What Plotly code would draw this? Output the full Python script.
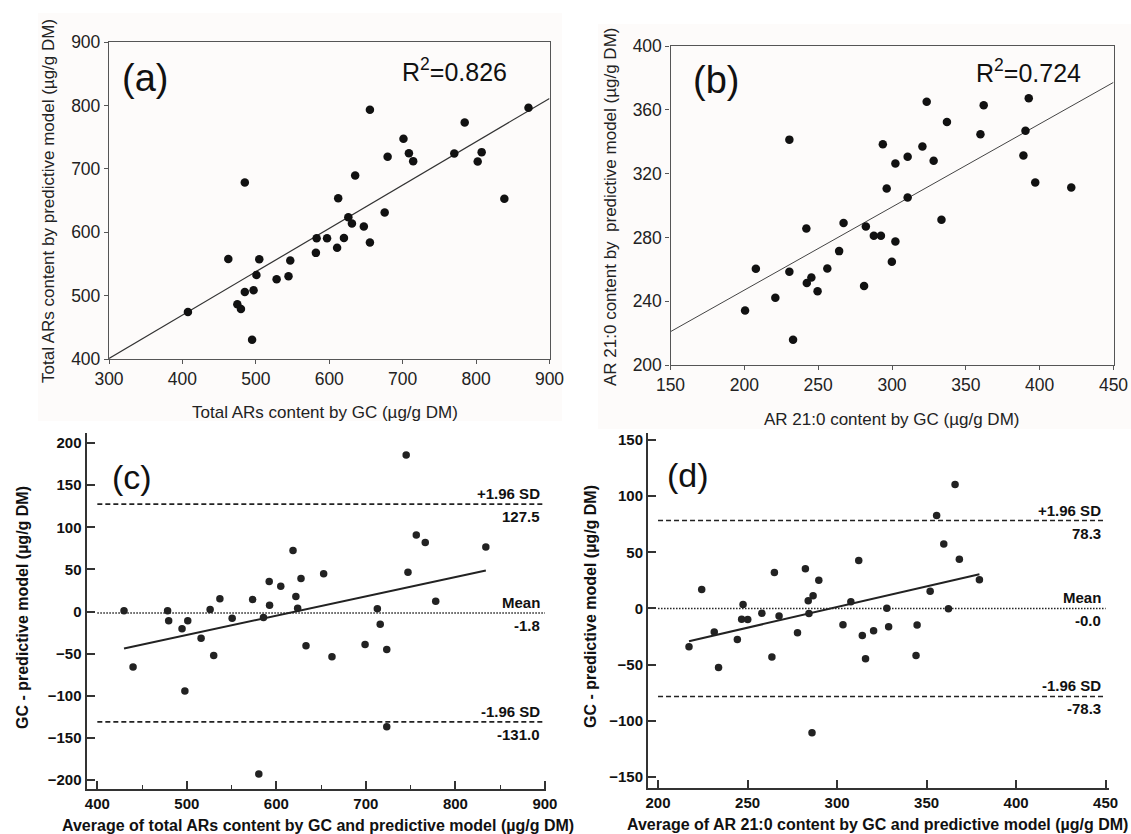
import plotly.graph_objects as go

# ---------------- data ----------------
# (a) Total ARs: GC vs predictive model
a_gc = [407.5, 462.5, 485, 474.8, 479.7, 485, 496.9, 494.9, 500.8, 504.7, 528.3, 544.5,
        546.9, 581.8, 582.8, 597, 610.7, 612.2, 620, 626, 630.9, 635.3, 647.1, 655.4,
        655.4, 675.5, 679.5, 701.1, 708.5, 714.3, 770.3, 784.5, 802.2, 807.6, 838.5, 871.4]
a_pred = [474.2, 557.9, 678.4, 486.3, 478.9, 505.8, 508.4, 430.5, 532.6, 557.4, 525.8, 530.5,
          555.3, 567.4, 590.5, 590.5, 575.3, 653.7, 591, 623.7, 613.7, 689.5, 608.9, 583.7,
          793.2, 631.1, 718.9, 747.4, 724.7, 712.1, 724.2, 773.2, 711.6, 726.3, 652.6, 796.3]
a_fit_x = [300, 900]
a_fit_y = [401, 811]
a_r2 = "0.826"

# (b) AR 21:0: GC vs predictive model
b_gc = [200.5, 207.8, 221, 230.5, 230.5, 233, 242, 242.3, 245.4, 249.6, 256.2, 264.2,
        267.2, 281.1, 282.3, 287.7, 292.5, 293.8, 296.4, 299.9, 302.3, 302.3, 310.6, 310.6,
        320.6, 323.5, 328.2, 333.5, 337.2, 359.9, 362.1, 389, 390.4, 392.6, 397, 421.4]
b_pred = [234.2, 260.3, 242.2, 341.3, 258.5, 215.9, 285.6, 251.4, 254.9, 246.3, 260.5, 271.4,
          289.1, 249.5, 286.8, 281, 281, 338.4, 310.6, 264.7, 326.3, 277.5, 330.5, 305,
          337, 365.1, 328, 291, 352.4, 344.7, 362.8, 331.3, 346.8, 367.2, 314.4, 311.3]
b_fit_x = [150, 450]
b_fit_y = [220.9, 377.2]
b_r2 = "0.724"

# (c) Bland-Altman, total ARs
c_avg = [429.8, 439.9, 478.5, 479.7, 494.6, 501, 497.8, 515.9, 526, 530, 536.9, 550.6,
         573.5, 580.4, 585.6, 592, 592.4, 604.9, 618.6, 621.8, 623.8, 627.5, 633.1, 652.8,
         662.1, 699.1, 712.8, 716, 723.3, 723.3, 745, 747, 756.3, 766.3, 778, 834]
c_diff = [0.8, -66, 0.8, -11.1, -20.6, -11.1, -94.5, -31.6, 2.4, -52.2, 15, -7.9,
          14.2, -192.9, -7.1, 35.6, 7.5, 30, 72.3, 17.8, 4, 39.1, -40.7, 44.7,
          -53.8, -39.1, 3.2, -15, -45.1, -136.8, 185.8, 46.6, 90.9, 81.8, 12.3, 76.7]
c_fit_x = [429.8, 834]
c_fit_y = [-43.9, 48.6]
c_mean, c_upper, c_lower = -1.8, 127.5, -131.0
c_mean_lbl, c_upper_lbl, c_lower_lbl = "-1.8", "127.5", "-131.0"

# (d) Bland-Altman, AR 21:0
d_avg = [217.3, 224.4, 231.4, 233.8, 244.3, 247.5, 246.7, 250.1, 258, 263.6, 265, 267.6,
         277.9, 282.3, 283.9, 284.3, 286.6, 286, 289.8, 303.3, 307.7, 312.1, 314.1, 315.9,
         320.4, 327.8, 328.8, 344.1, 344.7, 352, 355.6, 359.6, 362.2, 365.9, 368.3, 379.5]
d_diff = [-34.1, 16.9, -21, -52.5, -27.6, 3.6, -9.5, -9.8, -4.2, -43.3, 32, -6.8,
          -21.6, 35.3, 6.8, -4.4, 11.3, -110.6, 25.2, -14.5, 5.9, 42.7, -24, -44.8,
          -19.9, 0.3, -16.3, -41.8, -14.8, 15.4, 82.7, 57.5, -0.3, 110.3, 43.9, 25.5]
d_fit_x = [217.3, 379.5]
d_fit_y = [-29.1, 30.5]
d_mean, d_upper, d_lower = 0.0, 78.3, -78.3
d_mean_lbl, d_upper_lbl, d_lower_lbl = "-0.0", "78.3", "-78.3"

# ---------------- figure ----------------
W, H = 1131, 834
FONT = "Liberation Sans, Arial, sans-serif"


def px(x):
    return x / W


def py(y):
    return 1 - y / H


fig = go.Figure()

# scatter + fit lines (a), (b)
fig.add_trace(go.Scatter(x=a_fit_x, y=a_fit_y, mode="lines", xaxis="x", yaxis="y",
                         line=dict(color="#333333", width=1.2), showlegend=False))
fig.add_trace(go.Scatter(x=a_gc, y=a_pred, mode="markers", xaxis="x", yaxis="y",
                         marker=dict(size=8.5, color="#111111"), showlegend=False))
fig.add_trace(go.Scatter(x=b_fit_x, y=b_fit_y, mode="lines", xaxis="x2", yaxis="y2",
                         line=dict(color="#444444", width=1), showlegend=False))
fig.add_trace(go.Scatter(x=b_gc, y=b_pred, mode="markers", xaxis="x2", yaxis="y2",
                         marker=dict(size=8.5, color="#111111"), showlegend=False))


def ba_panel(avg, diff, fx, fy, mean, up, lo, xr, xa, ya):
    fig.add_trace(go.Scatter(x=[xr[0], xr[1]], y=[up, up], mode="lines", xaxis=xa, yaxis=ya,
                             line=dict(color="#222222", width=1.6, dash="5px,3px"), showlegend=False))
    fig.add_trace(go.Scatter(x=[xr[0], xr[1]], y=[lo, lo], mode="lines", xaxis=xa, yaxis=ya,
                             line=dict(color="#222222", width=1.6, dash="5px,3px"), showlegend=False))
    fig.add_trace(go.Scatter(x=[xr[0], xr[1]], y=[mean, mean], mode="lines", xaxis=xa, yaxis=ya,
                             line=dict(color="#222222", width=1.6, dash="1.5px,1.5px"), showlegend=False))
    fig.add_trace(go.Scatter(x=fx, y=fy, mode="lines", xaxis=xa, yaxis=ya,
                             line=dict(color="#222222", width=2), showlegend=False))
    fig.add_trace(go.Scatter(x=avg, y=diff, mode="markers", xaxis=xa, yaxis=ya,
                             marker=dict(size=7.5, color="#222222"), showlegend=False))


ba_panel(c_avg, c_diff, c_fit_x, c_fit_y, c_mean, c_upper, c_lower, [400, 900], "x3", "y3")
ba_panel(d_avg, d_diff, d_fit_x, d_fit_y, d_mean, d_upper, d_lower, [200, 450], "x4", "y4")

top_axis = dict(showgrid=False, zeroline=False, showline=True, linecolor="#555555", linewidth=1.3,
                mirror=True, ticks="outside", ticklen=4, tickcolor="#555555", tickwidth=1.2,
                automargin=False,
                tickfont=dict(family=FONT, size=17.5, color="#222222"))
bot_axis = dict(showgrid=False, zeroline=False, showline=True, linecolor="#333333", linewidth=2,
                mirror=False, ticks="inside", ticklen=8, tickcolor="#333333", tickwidth=1.5,
                automargin=False,
                tickfont=dict(family=FONT, size=15, color="#111111", weight="bold"))

fig.update_layout(
    template="none",
    width=W, height=H, margin=dict(l=0, r=0, t=0, b=0, pad=0, autoexpand=False),
    paper_bgcolor="white", plot_bgcolor="rgba(0,0,0,0)", showlegend=False,
    xaxis=dict(top_axis, domain=[px(109), px(549.5)], range=[300, 900], dtick=100, anchor="y"),
    yaxis=dict(top_axis, domain=[py(359), py(42)], range=[400, 900], dtick=100, anchor="x"),
    xaxis2=dict(top_axis, domain=[px(670.5), px(1113.5)], range=[150, 450], dtick=50, anchor="y2"),
    yaxis2=dict(top_axis, domain=[py(365), py(46)], range=[200, 400], dtick=40, anchor="x2"),
    xaxis3=dict(bot_axis, domain=[px(86.5), px(546)], range=[387.9, 901.2], tickvals=[400, 500, 600, 700, 800, 900],
                minor=dict(ticks="inside", ticklen=4, tickcolor="#333333", tickwidth=1.2,
                           tickvals=[450, 550, 650, 750, 850]), anchor="y3"),
    yaxis3=dict(bot_axis, domain=[py(789), py(433)], range=[-210.7, 211.9],
                tickvals=[-200, -150, -100, -50, 0, 50, 100, 150, 200], anchor="x3"),
    xaxis4=dict(bot_axis, domain=[px(648), px(1108.5)], range=[194.4, 451.6],
                tickvals=[200, 250, 300, 350, 400, 450], anchor="y4"),
    yaxis4=dict(bot_axis, domain=[py(788), py(433)], range=[-159.8, 156.2],
                tickvals=[-150, -100, -50, 0, 50, 100, 150], anchor="x4"),
)

# light backgrounds behind the top panels
fig.add_shape(type="rect", xref="paper", yref="paper", x0=px(38), x1=px(562), y0=py(421), y1=py(13),
              fillcolor="#fdfbfa", line=dict(width=0), layer="below")
fig.add_shape(type="rect", xref="paper", yref="paper", x0=px(598), x1=1, y0=py(429), y1=py(24),
              fillcolor="#fdfbfa", line=dict(width=0), layer="below")

anns = []


def ann(text, x, y, size, bold=False, xanchor="center", yanchor="middle", angle=0, xref="paper",
        yref="paper", xshift=0, yshift=0, color="#111111"):
    anns.append(dict(text=text, x=x, y=y, xref=xref, yref=yref, showarrow=False,
                     xanchor=xanchor, yanchor=yanchor, textangle=angle, xshift=xshift, yshift=yshift,
                     font=dict(family=FONT, size=size, color=color, weight="bold" if bold else "normal")))


# axis titles
ann("Total ARs content by GC (µg/g DM)", px(325), py(412), 17, color="#222222")
ann("Total ARs content by predictive model (µg/g DM)", px(48), py(201), 17, angle=-90, color="#222222")
ann("AR 21:0 content by GC (µg/g DM)", px(891), py(419), 17, color="#222222")
ann("AR 21:0 content by  predictive model (µg/g DM)", px(610), py(207), 17, angle=-90, color="#222222")
ann("Average of total ARs content by GC and predictive model (µg/g DM)", px(318), py(825), 16, bold=True)
ann("GC - predictive model (µg/g DM)", px(22), py(608), 16, bold=True, angle=-90)
ann("Average of AR 21:0 content by GC and predictive model (µg/g DM)", px(877), py(824), 16, bold=True)
ann("GC - predictive model (µg/g DM)", px(590), py(607), 16, bold=True, angle=-90)

# panel letters and R²
ann("(a)", px(120), py(78), 38, xanchor="left", color="#111111")
ann("R<sup>2</sup>=" + a_r2, px(509), py(70), 25, xanchor="right", color="#111111")
ann("(b)", px(691), py(80), 38, xanchor="left", color="#111111")
ann("R<sup>2</sup>=" + b_r2, px(1083), py(71), 25, xanchor="right", color="#111111")
ann("(c)", px(110), py(477), 34, xanchor="left")
ann("(d)", px(665), py(475), 34, xanchor="left")

# Bland-Altman line labels
for xa, ya, xr, up, lo, mean, ul, ll, ml in [
        ("x3", "y3", 900, c_upper, c_lower, c_mean, c_upper_lbl, c_lower_lbl, c_mean_lbl),
        ("x4", "y4", 450, d_upper, d_lower, d_mean, d_upper_lbl, d_lower_lbl, d_mean_lbl)]:
    for yv, top, bottom in [(up, "+1.96 SD", ul), (mean, "Mean", ml), (lo, "-1.96 SD", ll)]:
        ann(top, xr, yv, 15, bold=True, xanchor="right", yanchor="bottom", xref=xa, yref=ya,
            xshift=-3, yshift=0)
        ann(bottom, xr, yv, 15, bold=True, xanchor="right", yanchor="top", xref=xa, yref=ya,
            xshift=-3, yshift=-2)

fig.update_layout(annotations=anns)
# remove the default page margin so the 1131x834 figure fills the window exactly
fig.write_html("out.html", config={"displayModeBar": False},
               post_script="document.body.style.margin='0px';document.body.style.overflow='hidden';")
